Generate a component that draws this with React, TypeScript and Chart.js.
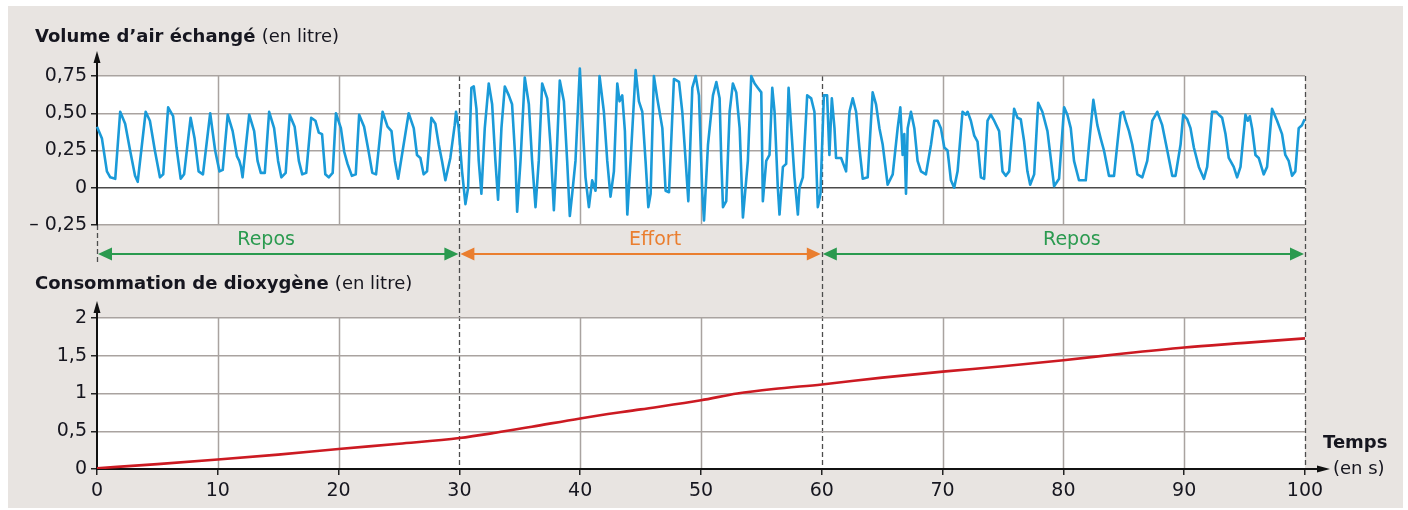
import React, { useEffect, useRef } from 'react';
import { Chart, registerables } from 'chart.js';

Chart.register(...registerables);

// ---- Axis ticks ----
const xTickValues = [0, 10, 20, 30, 40, 50, 60, 70, 80, 90, 100];
const xTickLabels = ['0', '10', '20', '30', '40', '50', '60', '70', '80', '90', '100'];
const topTickValues = [-0.25, 0, 0.25, 0.5, 0.75];
const topTickLabels = ['– 0,25', '0', '0,25', '0,50', '0,75'];
const bottomTickValues = [0, 0.5, 1, 1.5, 2];
const bottomTickLabels = ['0', '0,5', '1', '1,5', '2'];

// ---- Texts ----
const topTitleBold = 'Volume d’air échangé';
const bottomTitleBold = 'Consommation de dioxygène';
const titleUnit = '(en litre)';
const xTitle = 'Temps';
const xUnit = '(en s)';

// ---- Phases ----
const phaseNames = ['Repos', 'Effort', 'Repos'];
const phaseStarts = [0, 30, 60];
const phaseEnds = [30, 60, 100];
const phaseLabelAt = [14, 46.2, 80.7];
const phaseColors = ['#2a9a4f', '#ea7e2f', '#2a9a4f'];
const dashedTimes = [30, 60, 100];

// ---- Volume d'air échangé (s, litre) ----
const restPhase1: [number, number][] = [
  [0.0, 0.41], [0.41, 0.33], [0.82, 0.11], [1.1, 0.07], [1.51, 0.06], [1.92, 0.51], [2.33, 0.43], [2.74, 0.25],
  [3.15, 0.08], [3.37, 0.04], [4.03, 0.51], [4.38, 0.45], [4.79, 0.25], [5.21, 0.07], [5.48, 0.09], [5.89, 0.54],
  [6.3, 0.48], [6.58, 0.27], [6.93, 0.06], [7.21, 0.09], [7.75, 0.47], [8.08, 0.33], [8.41, 0.11], [8.77, 0.09],
  [9.37, 0.5], [9.78, 0.25], [10.14, 0.11], [10.41, 0.12], [10.82, 0.49], [11.23, 0.38], [11.59, 0.21], [11.78, 0.18],
  [11.92, 0.14], [12.05, 0.07], [12.19, 0.18], [12.6, 0.49], [13.01, 0.38], [13.29, 0.18], [13.56, 0.1], [13.89, 0.1],
  [14.25, 0.51], [14.66, 0.4], [14.99, 0.18], [15.26, 0.07], [15.62, 0.1], [15.95, 0.49], [16.36, 0.41], [16.71, 0.18],
  [16.99, 0.09], [17.32, 0.1], [17.73, 0.47], [18.08, 0.45], [18.36, 0.37], [18.63, 0.36], [18.9, 0.09], [19.18, 0.07],
  [19.51, 0.1], [19.78, 0.5], [20.19, 0.4], [20.47, 0.24], [20.74, 0.16], [21.1, 0.08], [21.42, 0.09], [21.7, 0.49],
  [22.11, 0.41], [22.47, 0.25], [22.79, 0.1], [23.1, 0.09], [23.64, 0.51], [24.05, 0.41], [24.38, 0.38], [24.66, 0.18],
  [24.93, 0.06], [25.8, 0.5], [26.22, 0.4], [26.49, 0.22], [26.77, 0.2], [27.04, 0.09], [27.32, 0.11], [27.68, 0.47],
  [28.01, 0.43], [28.29, 0.29], [28.56, 0.18], [28.84, 0.05], [29.25, 0.2], [29.61, 0.42], [29.72, 0.51], [29.94, 0.4],
];

const effortPhase: [number, number][] = [
  [30.22, 0.11], [30.5, -0.11], [30.72, 0.0], [30.99, 0.67], [31.19, 0.68], [31.41, 0.53], [31.6, 0.18], [31.82, -0.04],
  [32.1, 0.4], [32.43, 0.7], [32.71, 0.56], [32.98, 0.18], [33.2, -0.08], [33.48, 0.4], [33.76, 0.68], [34.09, 0.62],
  [34.36, 0.56], [34.64, 0.18], [34.78, -0.16], [35.06, 0.18], [35.41, 0.74], [35.75, 0.56], [36.02, 0.18], [36.3, -0.13],
  [36.57, 0.18], [36.85, 0.7], [37.27, 0.6], [37.54, 0.29], [37.82, -0.15], [38.09, 0.29], [38.31, 0.72], [38.65, 0.58],
  [38.92, 0.18], [39.14, -0.19], [39.34, -0.04], [39.61, 0.18], [39.97, 0.8], [40.22, 0.4], [40.44, 0.07], [40.72, -0.13],
  [40.99, 0.05], [41.27, -0.02], [41.6, 0.75], [41.96, 0.51], [42.24, 0.18], [42.51, -0.06], [42.79, 0.11], [43.07, 0.7],
  [43.26, 0.58], [43.48, 0.62], [43.7, 0.38], [43.9, -0.18], [44.17, 0.18], [44.59, 0.79], [44.86, 0.58], [45.14, 0.51],
  [45.41, 0.18], [45.64, -0.13], [45.83, -0.04], [46.1, 0.75], [46.38, 0.6], [46.8, 0.4], [47.07, -0.02], [47.35, -0.03],
  [47.76, 0.73], [48.18, 0.71], [48.45, 0.51], [48.73, 0.18], [48.95, -0.09], [49.28, 0.67], [49.56, 0.75], [49.83, 0.62],
  [50.11, -0.04], [50.25, -0.22], [50.58, 0.29], [50.99, 0.62], [51.27, 0.71], [51.54, 0.6], [51.68, 0.18], [51.82, -0.13],
  [52.09, -0.09], [52.37, 0.51], [52.64, 0.7], [52.92, 0.64], [53.2, 0.4], [53.47, -0.2], [53.88, 0.18], [54.16, 0.75],
  [54.44, 0.7], [54.71, 0.67], [54.99, 0.64], [55.12, -0.09], [55.4, 0.18], [55.67, 0.22], [55.9, 0.67], [56.09, 0.51],
  [56.36, 0.0], [56.5, -0.18], [56.78, 0.14], [57.05, 0.16], [57.25, 0.67], [57.47, 0.4], [57.74, 0.07], [58.02, -0.18],
  [58.15, 0.0], [58.43, 0.07], [58.79, 0.62], [59.12, 0.6], [59.39, 0.51], [59.67, -0.13], [59.89, -0.04],
];

const restPhase2: [number, number][] = [
  [60.17, 0.62], [60.44, 0.62], [60.63, 0.22], [60.83, 0.6], [61.05, 0.4], [61.18, 0.2], [61.6, 0.2], [62.01, 0.11],
  [62.29, 0.51], [62.56, 0.6], [62.84, 0.51], [63.11, 0.27], [63.39, 0.06], [63.8, 0.07], [64.21, 0.64], [64.49, 0.56],
  [64.77, 0.4], [65.04, 0.29], [65.45, 0.02], [65.87, 0.09], [66.28, 0.4], [66.5, 0.54], [66.69, 0.22], [66.83, 0.36],
  [66.97, -0.04], [67.11, 0.4], [67.38, 0.51], [67.66, 0.4], [67.93, 0.18], [68.21, 0.11], [68.62, 0.09], [69.04, 0.29],
  [69.31, 0.45], [69.59, 0.45], [69.86, 0.4], [70.14, 0.27], [70.41, 0.25], [70.69, 0.05], [70.96, 0.0], [71.24, 0.11],
  [71.65, 0.51], [71.93, 0.49], [72.07, 0.51], [72.34, 0.45], [72.62, 0.35], [72.89, 0.31], [73.17, 0.07], [73.44, 0.06],
  [73.72, 0.45], [73.99, 0.49], [74.27, 0.45], [74.68, 0.38], [74.96, 0.11], [75.23, 0.08], [75.51, 0.11], [75.92, 0.53],
  [76.2, 0.47], [76.47, 0.46], [76.75, 0.31], [77.02, 0.11], [77.25, 0.02], [77.58, 0.09], [77.91, 0.57], [78.26, 0.51],
  [78.68, 0.38], [78.95, 0.2], [79.23, 0.01], [79.64, 0.06], [80.06, 0.54], [80.33, 0.49], [80.61, 0.4], [80.88, 0.18],
  [81.29, 0.05], [81.85, 0.05], [82.12, 0.29], [82.48, 0.59], [82.81, 0.42], [83.09, 0.33], [83.36, 0.25], [83.77, 0.08],
  [84.19, 0.08], [84.46, 0.29], [84.74, 0.5], [84.96, 0.51], [85.15, 0.45], [85.43, 0.38], [85.7, 0.29], [86.12, 0.09],
  [86.53, 0.07], [86.94, 0.18], [87.36, 0.45], [87.77, 0.51], [88.18, 0.42], [88.6, 0.25], [89.01, 0.08], [89.28, 0.08],
  [89.7, 0.29], [89.92, 0.49], [90.25, 0.46], [90.52, 0.4], [90.8, 0.27], [91.21, 0.14], [91.63, 0.06], [91.9, 0.14],
  [92.31, 0.51], [92.67, 0.51], [92.87, 0.49], [93.14, 0.47], [93.42, 0.36], [93.69, 0.2], [94.1, 0.14], [94.38, 0.07],
  [94.66, 0.14], [95.07, 0.49], [95.26, 0.45], [95.43, 0.48], [95.62, 0.4], [95.9, 0.22], [96.17, 0.2], [96.58, 0.09],
  [96.86, 0.14], [97.27, 0.53], [97.69, 0.45], [98.1, 0.36], [98.37, 0.22], [98.65, 0.18], [98.93, 0.08], [99.2, 0.11],
  [99.48, 0.4], [99.75, 0.42], [99.97, 0.46],
];

// ---- Consommation de dioxygène (s, litre) ----
const o2Times = [0, 5, 10, 15, 20, 25, 30, 33, 36, 40, 45, 50, 53, 56, 60, 65, 70, 75, 80, 85, 90, 95, 100];
const o2Values = [0.01, 0.065, 0.125, 0.19, 0.265, 0.335, 0.41, 0.48, 0.56, 0.67, 0.79, 0.91, 1.0, 1.06, 1.12, 1.21, 1.29, 1.36, 1.44, 1.53, 1.61, 1.67, 1.73];

// ---- Styles ----
const BG = '#e8e4e1';
const GRID = '#a9a3a0';
const DARK = '#16161f';
const BLUE = '#1a9ad8';
const RED = '#cc1a22';
const FONT = '"DejaVu Sans", sans-serif';

function arrowHead(ctx: CanvasRenderingContext2D, x: number, y: number, dir: string, len: number, half: number) {
  ctx.beginPath();
  ctx.moveTo(x, y);
  if (dir === 'left') { ctx.lineTo(x + len, y - half); ctx.lineTo(x + len, y + half); }
  if (dir === 'right') { ctx.lineTo(x - len, y - half); ctx.lineTo(x - len, y + half); }
  if (dir === 'up') { ctx.lineTo(x - half, y + len); ctx.lineTo(x + half, y + len); }
  ctx.closePath();
  ctx.fill();
}

const decorPlugin = {
  id: 'decor',
  beforeDraw(chart: any) {
    const { ctx, chartArea, scales } = chart;
    const x = scales.x, yT = scales.yTop, yB = scales.yBot, yG = scales.yGap;
    ctx.save();
    ctx.fillStyle = '#ffffff';
    ctx.fillRect(0, 0, chart.width, chart.height);
    ctx.fillStyle = BG;
    ctx.fillRect(8, 6, 1395, 502);
    ctx.fillStyle = '#ffffff';
    ctx.fillRect(chartArea.left, yT.top, chartArea.right - chartArea.left, yT.bottom - yT.top);
    ctx.fillRect(chartArea.left, yB.top, chartArea.right - chartArea.left, yB.bottom - yB.top);
    // vertical grid
    ctx.strokeStyle = GRID;
    ctx.lineWidth = 1.5;
    xTickValues.filter(v => v !== 0 && !dashedTimes.includes(v)).forEach(v => {
      const px = Math.round(x.getPixelForValue(v)) + 0.5;
      ctx.beginPath();
      ctx.moveTo(px, yT.top); ctx.lineTo(px, yT.bottom);
      ctx.moveTo(px, yB.top); ctx.lineTo(px, yB.bottom);
      ctx.stroke();
    });
    // dashed phase limits
    ctx.strokeStyle = '#4d4d4d';
    ctx.lineWidth = 1.3;
    ctx.setLineDash([5, 3]);
    dashedTimes.forEach(v => {
      const px = Math.round(x.getPixelForValue(v)) + 0.5;
      ctx.beginPath();
      ctx.moveTo(px, yT.top); ctx.lineTo(px, yB.bottom);
      ctx.stroke();
    });
    const p0 = Math.round(x.getPixelForValue(0)) + 0.5;
    ctx.beginPath();
    ctx.moveTo(p0, yT.bottom); ctx.lineTo(p0, yG.top + 40);
    ctx.stroke();
    ctx.setLineDash([]);
    ctx.restore();
  },
  afterDraw(chart: any) {
    const { ctx, chartArea, scales } = chart;
    const x = scales.x, yT = scales.yTop, yB = scales.yBot, yG = scales.yGap;
    ctx.save();
    const ax = x.getPixelForValue(0);
    // axis arrows
    ctx.fillStyle = '#111';
    ctx.strokeStyle = '#111';
    ctx.lineWidth = 2;
    ctx.beginPath();
    ctx.moveTo(ax, yT.top); ctx.lineTo(ax, yT.top - 18);
    ctx.moveTo(ax, yB.top); ctx.lineTo(ax, yB.top - 10);
    ctx.moveTo(chartArea.right, yB.bottom); ctx.lineTo(chartArea.right + 14, yB.bottom);
    ctx.stroke();
    arrowHead(ctx, ax, yT.top - 25, 'up', 12, 3.5);
    arrowHead(ctx, ax, yB.top - 17, 'up', 12, 3.5);
    arrowHead(ctx, chartArea.right + 25, yB.bottom, 'right', 13, 3.5);

    // titles
    ctx.textBaseline = 'middle';
    ctx.textAlign = 'left';
    ctx.fillStyle = DARK;
    ctx.font = `bold 18px ${FONT}`;
    ctx.fillText(topTitleBold, 35, 37);
    const w1 = ctx.measureText(topTitleBold + ' ').width;
    ctx.fillText(bottomTitleBold, 35, yG.top + 59);
    const w2 = ctx.measureText(bottomTitleBold + ' ').width;
    ctx.fillText(xTitle, chartArea.right + 18, yB.bottom - 26);
    ctx.font = `18px ${FONT}`;
    ctx.fillText(titleUnit, 35 + w1, 37);
    ctx.fillText(titleUnit, 35 + w2, yG.top + 59);
    ctx.fillText(xUnit, chartArea.right + 28, yB.bottom);

    // phase arrows
    const rowY = yG.top + 29;
    phaseNames.forEach((name, i) => {
      const a = x.getPixelForValue(phaseStarts[i]);
      const b = x.getPixelForValue(phaseEnds[i]);
      ctx.strokeStyle = phaseColors[i];
      ctx.fillStyle = phaseColors[i];
      ctx.lineWidth = 2;
      ctx.beginPath();
      ctx.moveTo(a + 10, rowY); ctx.lineTo(b - 10, rowY);
      ctx.stroke();
      arrowHead(ctx, a + 1, rowY, 'left', 14, 6.5);
      arrowHead(ctx, b - 1, rowY, 'right', 14, 6.5);
      ctx.font = `19px ${FONT}`;
      ctx.textAlign = 'center';
      ctx.fillText(name, x.getPixelForValue(phaseLabelAt[i]), rowY - 14);
    });
    ctx.restore();
  },
};

export default function App() {
  const ref = useRef<HTMLCanvasElement | null>(null);
  useEffect(() => {
    if (!ref.current) return;
    const breath = [...restPhase1, ...effortPhase, ...restPhase2].map(([t, v]) => ({ x: t, y: v }));
    const o2 = o2Times.map((t, i) => ({ x: t, y: o2Values[i] }));
    const tickFont = { family: FONT, size: 19 };
    const chart = new Chart(ref.current, {
      type: 'line',
      data: {
        datasets: [
          { data: breath, yAxisID: 'yTop', xAxisID: 'x', borderColor: BLUE, borderWidth: 2.6, borderJoinStyle: 'round', pointRadius: 0, tension: 0, clip: false } as any,
          { data: o2, yAxisID: 'yBot', xAxisID: 'x', borderColor: RED, borderWidth: 2.6, pointRadius: 0, cubicInterpolationMode: 'monotone' } as any,
        ],
      },
      options: {
        responsive: false,
        animation: false,
        events: [],
        layout: { padding: { top: 76, left: 0, right: 103, bottom: 0 } },
        plugins: { legend: { display: false }, tooltip: { enabled: false } },
        scales: {
          x: {
            type: 'linear', position: 'bottom', min: 0, max: 100,
            afterBuildTicks: (s: any) => { s.ticks = xTickValues.map(v => ({ value: v })); },
            afterFit: (s: any) => { s.height = 41; },
            ticks: {
              autoSkip: false, maxRotation: 0, padding: 5, color: DARK, font: tickFont,
              callback: (v: any) => xTickLabels[xTickValues.indexOf(Number(v))],
            },
            grid: { drawOnChartArea: false, drawTicks: true, tickLength: 6, tickColor: '#222', lineWidth: 1.5 },
            border: { display: true, color: '#111', width: 2 },
          },
          yTop: {
            type: 'linear', position: 'left', stack: 'panels', stackWeight: 149, weight: 3,
            min: -0.25, max: 0.75,
            afterBuildTicks: (s: any) => { s.ticks = topTickValues.map(v => ({ value: v })); },
            afterFit: (s: any) => { s.width = 97; },
            ticks: {
              autoSkip: false, padding: 4, color: DARK, font: tickFont,
              callback: (v: any) => topTickLabels[topTickValues.indexOf(Number(v))],
            },
            grid: {
              color: (c: any) => (c.tick && c.tick.value === 0 ? '#4a4a4a' : GRID),
              lineWidth: 1.5, tickLength: 6, tickColor: '#222',
            },
            border: { display: true, color: '#111', width: 2 },
          },
          yGap: {
            type: 'linear', position: 'left', stack: 'panels', stackWeight: 93, weight: 2,
            min: 0, max: 1,
            afterFit: (s: any) => { s.width = 97; },
            ticks: { display: false },
            grid: { display: false },
            border: { display: false },
          },
          yBot: {
            type: 'linear', position: 'left', stack: 'panels', stackWeight: 151, weight: 1,
            min: 0, max: 2,
            afterBuildTicks: (s: any) => { s.ticks = bottomTickValues.map(v => ({ value: v })); },
            afterFit: (s: any) => { s.width = 97; },
            ticks: {
              autoSkip: false, padding: 4, color: DARK, font: tickFont,
              callback: (v: any) => bottomTickLabels[bottomTickValues.indexOf(Number(v))],
            },
            grid: { color: GRID, lineWidth: 1.5, tickLength: 6, tickColor: '#222' },
            border: { display: true, color: '#111', width: 2 },
          },
        },
      } as any,
      plugins: [decorPlugin],
    });
    return () => chart.destroy();
  }, []);
  return (
    <div style={{ position: 'fixed', left: 0, top: 0, width: 1408, height: 510, background: '#fff' }}>
      <canvas ref={ref} width={1408} height={510} style={{ display: 'block', width: 1408, height: 510 }} />
    </div>
  );
}
